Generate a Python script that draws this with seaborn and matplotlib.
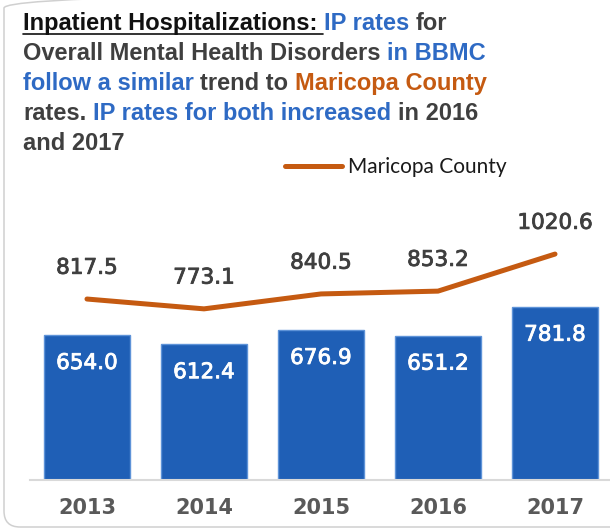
import numpy as np
import pandas as pd
import matplotlib
matplotlib.use("Agg")
import matplotlib.pyplot as plt
import matplotlib.patches as mpatches
import matplotlib.patheffects as pe
from matplotlib.lines import Line2D
from matplotlib.transforms import IdentityTransform
import seaborn as sns

# chart data
years = ["2013", "2014", "2015", "2016", "2017"]
bbmc_rates = [654.0, 612.4, 676.9, 651.2, 781.8]
maricopa_rates = [817.5, 773.1, 840.5, 853.2, 1020.6]
legend_label = "Maricopa County"

# headline text, split by which part gets highlighted
title_lines = [
    [("Inpatient Hospitalizations: ", "head"), ("IP rates", "bbmc"), (" for", "plain")],
    [("Overall Mental Health Disorders ", "plain"), ("in BBMC", "bbmc")],
    [("follow a similar", "bbmc"), (" trend to ", "plain"), ("Maricopa County", "county")],
    [("rates. ", "plain"), ("IP rates for both increased", "bbmc"), (" in 2016", "plain")],
    [("and 2017", "plain")],
]

BAR_BLUE = "#1F5FB6"
LINE_ORANGE = "#C55A11"
TEXT_DARK = "#3F3F3F"
role_colors = {"head": "#111111", "plain": TEXT_DARK, "bbmc": "#2E6AC4", "county": LINE_ORANGE}

W, H = 610, 529
sns.set_style("white")
fig = plt.figure(figsize=(W / 100, H / 100), dpi=100)
ax = fig.add_axes([30 / W, 1 - 480 / H, 580 / W, 290 / H])

df = pd.DataFrame({"Year": years, "BBMC": bbmc_rates, "Maricopa": maricopa_rates})

sns.barplot(data=df, x="Year", y="BBMC", color=BAR_BLUE, saturation=1, width=0.73,
            edgecolor="#5E93D8", linewidth=1, ax=ax)
sns.lineplot(x=np.arange(len(df)), y=df["Maricopa"].values, color=LINE_ORANGE, lw=3.6,
             solid_capstyle="round", ax=ax)

ax.set_xlim(-0.487, 4.47)
ax.set_ylim(0, 1310)

# value labels
for i, v in enumerate(df["BBMC"]):
    ax.annotate(f"{v:.1f}", (i, v), xytext=(0, -20), textcoords="offset points",
                ha="center", va="center", color="white", fontsize=15.5, family="DejaVu Sans",
                path_effects=[pe.withStroke(linewidth=0.6, foreground="white")])
for i, v in enumerate(df["Maricopa"]):
    ax.annotate(f"{v:.1f}", (i, v), xytext=(0, 22.5), textcoords="offset points",
                ha="center", va="center", color=TEXT_DARK, fontsize=15.5, family="DejaVu Sans",
                path_effects=[pe.withStroke(linewidth=0.6, foreground=TEXT_DARK)])

ax.set_xlabel("")
ax.set_ylabel("")
ax.set_yticks([])
ax.tick_params(axis="x", length=0, pad=13, labelsize=15, labelcolor="#595959")
for lbl in ax.get_xticklabels():
    lbl.set_fontweight("bold")
    lbl.set_family("DejaVu Sans")
for side in ["left", "top", "right"]:
    ax.spines[side].set_visible(False)
ax.spines["bottom"].set_color("#D9D9D9")
ax.spines["bottom"].set_linewidth(1.5)

# legend
handle = Line2D([], [], color=LINE_ORANGE, lw=3.6, solid_capstyle="round")
fig.legend(handles=[handle], labels=[legend_label], loc="center left",
           bbox_to_anchor=(285 / W, 1 - 167 / H), frameon=False,
           prop={"family": "Lato", "size": 15}, labelcolor="#1A1A1A",
           handlelength=2.75, handletextpad=0.25, borderpad=0, borderaxespad=0)

# headline, built piece by piece
renderer = fig.canvas.get_renderer()
tfont = {"family": "Liberation Sans", "weight": "bold", "size": 17}


def width_px(s):
    t = fig.text(0, 0, s, **tfont)
    w = t.get_window_extent(renderer=renderer).width
    t.remove()
    return w


x0 = 23
for n, line in enumerate(title_lines):
    base = 30 + 30 * n
    full = "".join(s for s, _ in line)
    pos = 0
    for s, role in line:
        end = pos + len(s)
        seg = s.strip()
        right = x0 + width_px(full[:end].rstrip())
        fig.text(right / W, 1 - base / H, seg, ha="right", va="baseline",
                 color=role_colors[role], **tfont)
        if role == "head":
            nxt = line[1][0]
            nxt_end = x0 + width_px(full[:end + len(nxt)].rstrip())
            ul_end = nxt_end - width_px(nxt) - 1
            fig.add_artist(Line2D([x0 / W, ul_end / W], [1 - (base + 4) / H] * 2,
                                  color="#111111", lw=1.2))
        pos = end

# rounded frame around the slide panel
frame = mpatches.FancyBboxPatch((4, 2), 720, 535, boxstyle="round,pad=0,rounding_size=16",
                                transform=IdentityTransform(), facecolor="none",
                                edgecolor="#D0D0D0", lw=1.1)
fig.add_artist(frame)

fig.savefig("out.png", dpi=100)
